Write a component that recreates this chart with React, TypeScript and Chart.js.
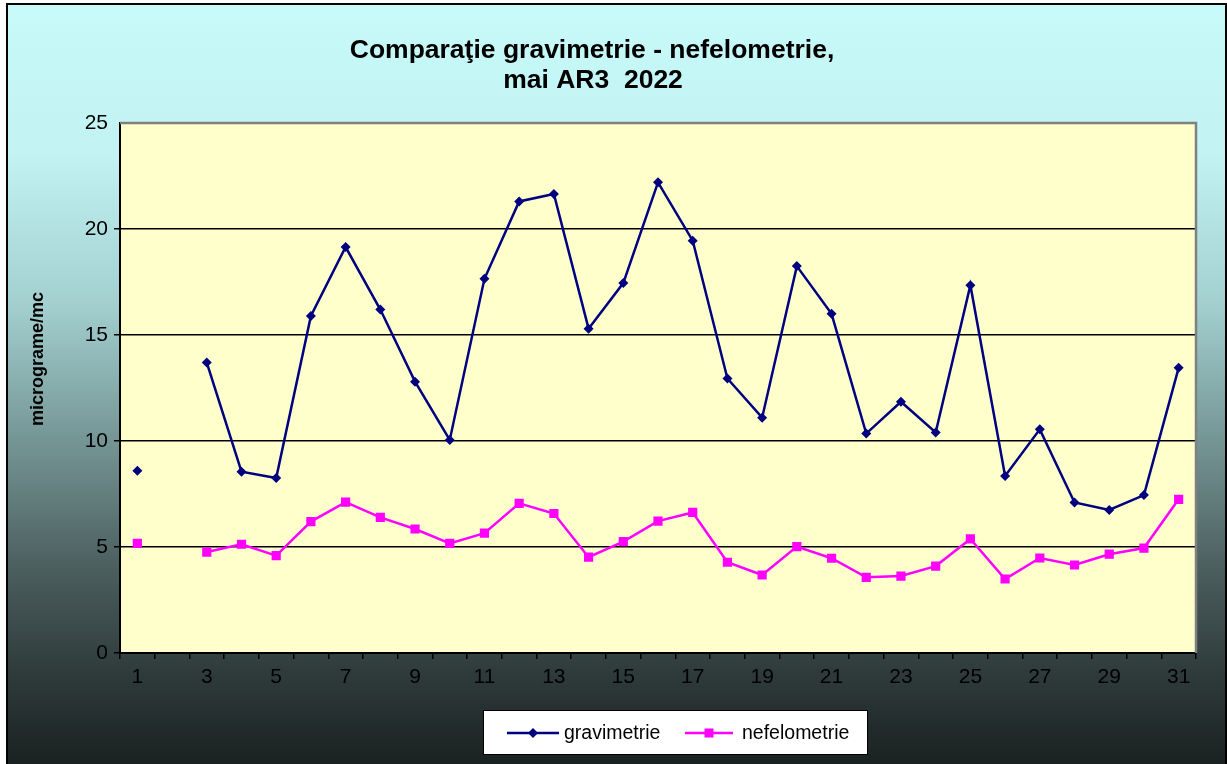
import React, { useEffect, useRef } from "react";
import { Chart, registerables } from "chart.js";

Chart.register(...registerables);

const days: string[] = Array.from({ length: 31 }, (_, i) => String(i + 1));

const gravimetrie: (number | null)[] = [
  8.6, null, 13.7, 8.55, 8.25, 15.9, 19.15, 16.2, 12.8, 10.05,
  17.65, 21.3, 21.65, 15.3, 17.45, 22.2, 19.45, 12.95, 11.1, 18.25,
  16.0, 10.35, 11.85, 10.4, 17.35, 8.35, 10.55, 7.1, 6.75, 7.45, 13.45,
];

const nefelometrie: (number | null)[] = [
  5.17, null, 4.76, 5.13, 4.59, 6.2, 7.12, 6.4, 5.85, 5.17,
  5.65, 7.06, 6.58, 4.52, 5.25, 6.22, 6.63, 4.28, 3.68, 5.02,
  4.47, 3.57, 3.63, 4.1, 5.38, 3.49, 4.48, 4.15, 4.66, 4.95, 7.25,
];

const titleLines = ["Comparaţie gravimetrie - nefelometrie,", "mai AR3  2022"];
const yAxisTitle = "micrograme/mc";
const seriesNames = ["gravimetrie", "nefelometrie"];

const NAVY = "#000080";
const MAGENTA = "#ff00ff";
const FONT = "'Liberation Sans', Arial, sans-serif";

const decorPlugin = {
  id: "decor",
  beforeDraw(chart: any) {
    const { ctx, width, height, chartArea } = chart;
    ctx.save();
    ctx.fillStyle = "#ffffff";
    ctx.fillRect(0, 0, width, height);
    const g = ctx.createLinearGradient(0, 4, 0, height);
    g.addColorStop(0, "#c8fafa");
    g.addColorStop(0.2, "#c2f2f2");
    g.addColorStop(0.4, "#a2cece");
    g.addColorStop(0.55, "#7b9d9d");
    g.addColorStop(0.75, "#4a5c5c");
    g.addColorStop(0.88, "#2f3b3b");
    g.addColorStop(1, "#1a2121");
    ctx.fillStyle = g;
    ctx.fillRect(7, 4, width - 7, height - 4);
    ctx.strokeStyle = "#000000";
    ctx.lineWidth = 2;
    ctx.strokeRect(7, 4, width - 8, height + 4);
    ctx.fillStyle = "#ffffcc";
    ctx.fillRect(chartArea.left, chartArea.top, chartArea.right - chartArea.left, chartArea.bottom - chartArea.top);
    ctx.restore();
  },
  beforeDatasetsDraw(chart: any) {
    const { ctx, chartArea } = chart;
    ctx.save();
    ctx.strokeStyle = "#808080";
    ctx.lineWidth = 2.5;
    ctx.beginPath();
    ctx.moveTo(chartArea.left, chartArea.top);
    ctx.lineTo(chartArea.right, chartArea.top);
    ctx.lineTo(chartArea.right, chartArea.bottom);
    ctx.stroke();
    ctx.restore();
  },
  afterDraw(chart: any) {
    const { ctx } = chart;
    ctx.save();
    ctx.fillStyle = "#000000";
    ctx.font = `bold 26.5px ${FONT}`;
    ctx.textAlign = "center";
    ctx.textBaseline = "middle";
    ctx.fillText(titleLines[0], 592, 51);
    ctx.fillText(titleLines[1], 593, 81);
    ctx.save();
    ctx.translate(38, 359);
    ctx.rotate(-Math.PI / 2);
    ctx.font = `bold 18px ${FONT}`;
    ctx.fillText(yAxisTitle, 0, 0);
    ctx.restore();
    const lx = 483, ly = 710, lw = 384, lh = 44;
    ctx.fillStyle = "#ffffff";
    ctx.fillRect(lx, ly, lw, lh);
    ctx.strokeStyle = "#000000";
    ctx.lineWidth = 1;
    ctx.strokeRect(lx + 0.5, ly + 0.5, lw, lh);
    const cy = ly + 23;
    const items = [
      { name: seriesNames[0], color: NAVY, x1: 507, x2: 559, tx: 564, shape: "diamond" },
      { name: seriesNames[1], color: MAGENTA, x1: 685, x2: 733, tx: 742, shape: "square" },
    ];
    ctx.font = `19.5px ${FONT}`;
    ctx.textAlign = "left";
    for (const it of items) {
      ctx.strokeStyle = it.color;
      ctx.lineWidth = 2.5;
      ctx.beginPath();
      ctx.moveTo(it.x1, cy);
      ctx.lineTo(it.x2, cy);
      ctx.stroke();
      const mx = (it.x1 + it.x2) / 2;
      ctx.fillStyle = it.color;
      if (it.shape === "diamond") {
        ctx.beginPath();
        ctx.moveTo(mx, cy - 5);
        ctx.lineTo(mx + 5, cy);
        ctx.lineTo(mx, cy + 5);
        ctx.lineTo(mx - 5, cy);
        ctx.closePath();
        ctx.fill();
      } else {
        ctx.fillRect(mx - 4.5, cy - 4.5, 9, 9);
      }
      ctx.fillStyle = "#000000";
      ctx.fillText(it.name, it.tx, cy + 1);
    }
    ctx.restore();
  },
};

export default function App() {
  const ref = useRef<HTMLCanvasElement | null>(null);
  useEffect(() => {
    document.body.style.margin = "0";
    if (!ref.current) return;
    const chart = new Chart(ref.current, {
      type: "line",
      data: {
        labels: days,
        datasets: [
          {
            label: seriesNames[0],
            data: gravimetrie,
            borderColor: NAVY,
            backgroundColor: NAVY,
            borderWidth: 2.5,
            pointStyle: "rectRot",
            pointRadius: 5,
            pointBorderWidth: 0,
            spanGaps: false,
            tension: 0,
          },
          {
            label: seriesNames[1],
            data: nefelometrie,
            borderColor: MAGENTA,
            backgroundColor: MAGENTA,
            borderWidth: 2.5,
            pointStyle: "rect",
            pointRadius: 6.5,
            pointBorderWidth: 0,
            spanGaps: false,
            tension: 0,
          },
        ],
      },
      options: {
        animation: false,
        responsive: false,
        maintainAspectRatio: false,
        layout: { padding: { left: 0, top: 123, right: 31, bottom: 71 } },
        plugins: {
          legend: { display: false },
          title: { display: false },
          tooltip: { enabled: false },
        },
        scales: {
          x: {
            type: "category",
            offset: true,
            afterFit: (s: any) => { s.height = 40; },
            grid: {
              offset: true,
              drawOnChartArea: false,
              drawTicks: true,
              tickLength: 6,
              color: "#000000",
              lineWidth: 1.5,
            },
            border: { color: "#000000", width: 2 },
            ticks: {
              autoSkip: false,
              maxRotation: 0,
              color: "#000000",
              padding: 6,
              font: { family: FONT, size: 21 },
              callback: (_v: any, i: number) => (i % 2 === 0 ? days[i] : ""),
            },
          },
          y: {
            min: 0,
            max: 25,
            afterFit: (s: any) => { s.width = 120; },
            grid: {
              drawOnChartArea: true,
              drawTicks: true,
              tickLength: 6,
              color: (c: any) => (c.tick && c.tick.value === 25 ? "rgba(0,0,0,0)" : "#000000"),
              lineWidth: 1.5,
            },
            border: { color: "#000000", width: 2 },
            ticks: {
              stepSize: 5,
              color: "#000000",
              padding: 6,
              font: { family: FONT, size: 21 },
            },
          },
        },
      },
      plugins: [decorPlugin],
    });
    return () => chart.destroy();
  }, []);
  return <canvas ref={ref} width={1227} height={764} style={{ display: "block" }} />;
}
